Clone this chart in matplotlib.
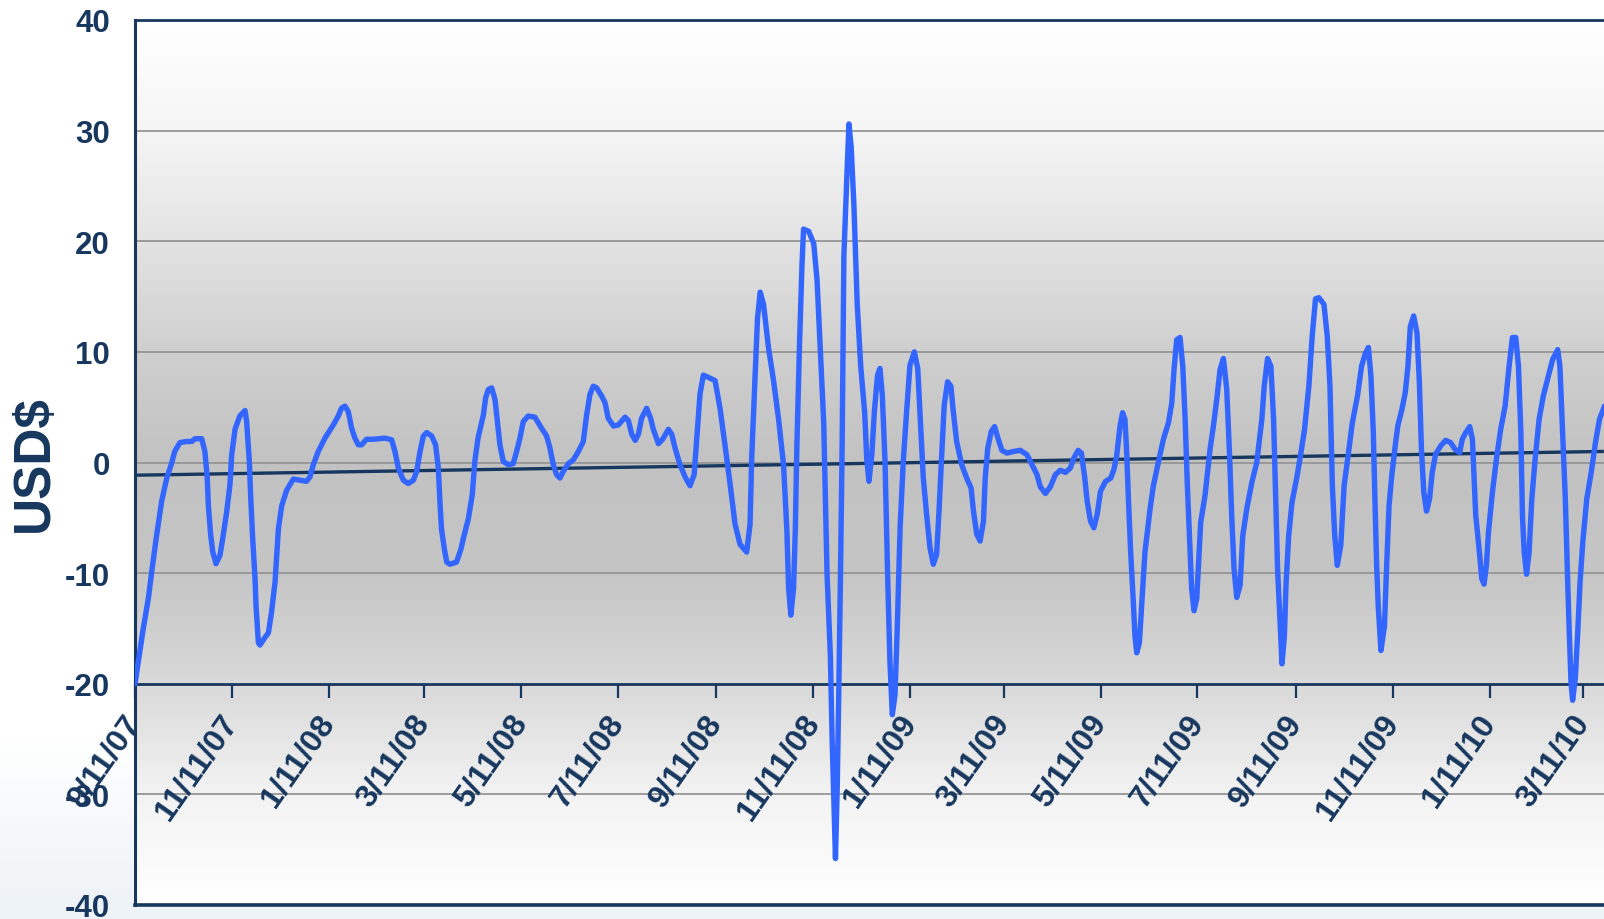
import matplotlib
matplotlib.use('Agg')
import matplotlib.pyplot as plt
import matplotlib.dates as mdates
from matplotlib.colors import LinearSegmentedColormap
from matplotlib.patches import Rectangle
import numpy as np
import pandas as pd

# ---------------- data ----------------
start_date = '2007-09-11'
# days after the start date, and the USD$ value read at each of them
day_offsets = [
    0, 5.2, 8.4, 10.5, 13.6, 16.8, 20, 23, 25, 28.3, 32.5, 35.7, 37.8, 42, 44, 45.5, 46.2, 47.7, 49, 51,
    53.5, 55.2, 57.7, 59.8, 60.9, 63, 66, 69.3, 70.3, 72, 72.8, 74, 75.6, 76.2, 77.7, 78.7, 81.9, 84, 86, 88.2,
    90.3, 92.4, 95.5, 99.7, 103.9, 108, 110.2, 112.3, 115.4, 119.6, 124.9, 128, 130, 132.2, 134.3, 136.4, 138.5,
    140.6, 142.7, 145.8, 150, 157.4, 161.6, 163.7, 165.8, 169, 172, 175.3, 177.4, 179.5, 181.6, 183.7, 186.8,
    189.3, 191, 192, 193, 194.8, 196.3, 198.3, 202.5, 205.3, 206.7, 209.9, 212.4, 214, 216, 219.4, 220.8, 222.5,
    224.6, 226.7, 228.4, 229.8, 231.9, 235, 238.2, 240.3, 242.4, 244.5, 247.6, 251.8, 256, 259.2, 261.3, 263.4,
    265.5, 267.6, 269.7, 272.9, 276, 279.2, 282.3, 284.4, 286.5, 288.6, 290.7, 293.9, 296, 298, 301.3, 304.4,
    308.6, 310.7, 312.8, 315, 317, 319, 322.2, 324.7, 326.4, 329.6, 332.3, 335.9, 338, 340.1, 343.2, 346.4,
    349.5, 352.1, 354.1, 355.8, 357.9, 361, 365.3, 368.4, 371.6, 374.7, 377.9, 381, 385.2, 387.3, 388.4, 390.5,
    392, 393.7, 395.8, 398.9, 402.1, 405.2, 408.4, 410.5, 411.6, 413, 414.7, 415.8, 416.8, 418.5, 420, 421,
    424.2, 427.4, 429.5, 431.6, 433.7, 435.8, 437.9, 439, 440, 441.1, 442.2, 443.2, 444.3, 445.3, 446.4, 448.5,
    449.6, 451, 452.7, 454.8, 457, 459.5, 460.8, 462.2, 464, 465.6, 467.6, 469.1, 470.6, 472.3, 474, 475.4,
    476.9, 478.6, 480, 481.8, 483.8, 485.9, 488, 490.8, 492.9, 494.3, 496.4, 498.5, 500.6, 502.7, 504.8, 506.3,
    508, 509.6, 511.7, 513.8, 515.3, 517.4, 520.6, 523.7, 526.5, 528, 530.1, 532.2, 534.3, 535.4, 537, 539.2,
    541.3, 543.4, 545.9, 549.1, 553.3, 557.5, 561.7, 564.9, 568, 570.1, 573.3, 576.4, 579.6, 582.7, 585.9, 589,
    591.2, 593.9, 596, 598.1, 599.6, 601.7, 603.8, 605.9, 608, 611.2, 614.5, 616.5, 618.2, 620.3, 621.9, 623.4,
    624.5, 625.5, 627, 628.7, 629.7, 630.8, 632.5, 634, 636, 639.2, 641.3, 644.4, 647.6, 650.8, 652.9, 654.3,
    656, 658.1, 659.8, 661.3, 662.7, 664.4, 665.4, 666.9, 668.6, 669.6, 671.1, 673.8, 677, 679.1, 681.2, 683.3,
    685.4, 687.5, 689.2, 690.7, 692.1, 693.8, 695.9, 697.6, 700.1, 703.3, 706.4, 709.6, 711.1, 713.2, 715.3,
    717, 718.1, 719.5, 720.8, 722.3, 723.8, 724.8, 726.5, 728.6, 731.8, 733.9, 736.5, 739.2, 741.3, 743.4,
    745.5, 748.7, 750.8, 752.5, 754, 755.5, 757.1, 759.3, 761.4, 763.9, 766.6, 769.8, 772.4, 774.6, 776.7,
    778.3, 779.8, 780.8, 781.9, 782.9, 784.6, 786.8, 788.2, 789.7, 791.4, 793.6, 795.2, 797.8, 799.9, 801.6,
    803.1, 805.2, 807.3, 808.8, 810.1, 811.6, 813.3, 815.2, 816.9, 819, 822.2, 825.3, 828.5, 831.2, 834.2,
    835.8, 838, 840.5, 842.2, 843.2, 844.3, 846.4, 848.1, 849.5, 851, 852.3, 854.8, 857.3, 860, 862.8, 865.3,
    867.4, 869.5, 871.2, 872.7, 873.7, 874.8, 876.3, 877.9, 879.6, 881.7, 884.2, 886.8, 889.5, 892.7, 895.9,
    897.3, 899, 900.7, 902.2, 903.2, 904.3, 905.3, 907, 908.5, 910, 911.7, 914.2, 917, 919.7, 922.2, 925.4,
]
usd_values = [
    -20, -15, -12.3, -9.9, -6.6, -3.5, -1.4, -0.1, 1.0, 1.8, 1.9, 1.9, 2.15, 2.15, 1.0, -1.4, -3.9, -6.6, -8.1, -9.15,
    -8.4, -6.9, -4.5, -2.0, 0.7, 3.0, 4.2, 4.7, 3.7, 0.1, -2.9, -6.6, -10.5, -12.9, -16.3, -16.5, -15.8, -15.4, -13.5, -10.8,
    -6.0, -3.9, -2.5, -1.5, -1.6, -1.7, -1.3, -0.2, 1.0, 2.2, 3.4, 4.2, 4.9, 5.1, 4.6, 3.1, 2.2,
    1.6, 1.6, 2.1, 2.1, 2.2, 2.06, 1.0, -0.5, -1.6, -1.9, -1.6, -0.8, 1.0, 2.4, 2.7, 2.4,
    1.6, -0.5, -3.5, -6.0, -7.8, -9.0, -9.2, -9.0, -7.8, -6.9, -5.1, -2.9, 0.1, 2.2, 4.3, 5.85, 6.6,
    6.75, 5.7, 3.4, 1.6, 0.1, -0.2, -0.1, 1.0, 2.2, 3.7, 4.2, 4.1, 3.1, 2.4, 1.3, -0.2,
    -1.1, -1.4, -0.8, -0.1, 0.24, 1.0, 1.9, 4.3, 6.15, 6.9, 6.75, 6.0, 5.4, 4.0, 3.3, 3.4,
    4.1, 3.8, 2.55, 2.0, 2.55, 4.0, 4.9, 4.0, 3.0, 1.7, 2.1, 3.0, 2.55, 1.3, -0.2, -1.3,
    -2.1, -1.1, 2.8, 6.2, 7.9, 7.7, 7.4, 4.9, 1.5, -1.9, -5.6, -7.4, -8.1, -5.6, 0.6, 7.8,
    13.0, 15.4, 14.3, 10.4, 7.4, 4.0, -0.2, -6.1, -11.4, -13.8, -11.4, -6.1, 1.5, 10.9, 17.8, 21.1,
    20.9, 19.8, 16.5, 10.0, 3.6, -10.1, -17.5, -25, -30.3, -35.8, -29.4, -20.6, -9.7, 1.5, 18.7, 26.7,
    30.6, 28.5, 23.3, 14.3, 8.7, 4.5, 0.3, -1.7, 0.7, 4.6, 7.9, 8.5, 6.1, 0.1, -10.5, -18,
    -22.8, -21, -15, -5.9, 0.1, 4.6, 8.8, 10.0, 8.5, 4.6, -1.4, -4.7, -7.7, -9.2, -8.3, -4.4,
    0.7, 5.2, 7.3, 6.9, 4.6, 1.9, -0.2, -1.4, -2.3, -4.4, -6.5, -7.1, -5.3, -1.4, 1.3, 2.8,
    3.25, 2.2, 1.1, 0.85, 1.0, 1.1, 0.7, -0.2, -1.1, -2.2, -2.8, -2.2, -1.1, -0.7, -0.9, -0.5,
    0.4, 1.1, 0.85, -1.4, -3.5, -5.3, -5.9, -4.7, -2.6, -1.7, -1.4, -0.6, 0.6, 3.3, 4.5, 3.9,
    0.9, -3.0, -8.1, -12.7, -15.7, -17.2, -16.3, -12.7, -8.1, -4.2, -2.1, 0.0, 2.1, 3.6, 5.4, 8.4,
    11.1, 11.3, 8.7, 3.9, -2.1, -8.1, -11.4, -13.4, -12.3, -9.6, -5.4, -3.0, 1.2, 3.3, 5.7, 8.4,
    9.4, 6.6, 0.9, -5.1, -9.6, -12.2, -11.1, -6.6, -4.2, -1.8, 0.0, 3.9, 6.9, 9.4, 8.7,
    3.9, -2.1, -9.6, -13.6, -18.2, -15.7, -11.1, -6.6, -3.6, -1.2, 0.6, 3.0, 6.9, 11.4, 14.8,
    14.9, 14.3, 11.4, 6.9, -2.1, -6.6, -9.3, -7.5, -2.1, 0.6, 3.6, 6.0, 8.7, 9.8, 10.4,
    7.8, 2.7, -3.3, -9.3, -13, -17, -14.8, -9.3, -3.9, -1.2, 1.5, 3.3, 4.8, 6.3, 8.7,
    12.3, 13.25, 11.7, 7.2, 1.2, -2.7, -4.4, -3.3, -0.9, 0.75, 1.5, 2.0, 1.8, 1.2, 0.9,
    2.1, 2.7, 3.25, 2.1, -1.2, -4.8, -7.8, -10.5, -11, -9.3, -6.3, -2.7, 0.3, 3.0, 5.1, 8.7,
    11.3, 11.3, 8.7, 2.7, -4.8, -8.1, -10.1, -8.1, -3.3, 0.3, 3.9, 6.0, 7.5, 9.3, 10.2,
    8.7, 2.7, -3.3, -10.8, -15.4, -19.9, -21.5, -19.5, -15.4, -10.8, -7.2, -3.3, -0.9, 1.8, 3.9, 5.1,
]
trend_days = [0, 925]
trend_values = [-1.15, 1.0]
tick_labels = ['9/11/07', '11/11/07', '1/11/08', '3/11/08', '5/11/08', '7/11/08', '9/11/08', '11/11/08',
               '1/11/09', '3/11/09', '5/11/09', '7/11/09', '9/11/09', '11/11/09', '1/11/10', '3/11/10']
y_ticks = [-40, -30, -20, -10, 0, 10, 20, 30, 40]
y_label = 'USD$'

# ---------------- style ----------------
navy = '#17375e'
blue = '#3366ff'
W, H = 1604, 920
plt.rcParams['font.family'] = ['Liberation Sans', 'DejaVu Sans']

fig = plt.figure(figsize=(W / 100, H / 100), dpi=100)
fig.patch.set_facecolor('white')

# light blue-grey strip at the bottom of the slide (behind everything)
fig.patches.append(Rectangle((0, 0), 1, 14 / H, transform=fig.transFigure,
                             facecolor='#eef3f7', edgecolor='none', zorder=-5))
# faint gradient in the lower-left corner
corner = fig.add_axes([0, 14 / H, 133 / W, 170 / H])
corner.set_zorder(-4)
corner_cmap = LinearSegmentedColormap.from_list('c', ['#eef3f7', '#ffffff'])
corner.imshow(np.linspace(1, 0, 64).reshape(-1, 1), cmap=corner_cmap, aspect='auto',
              extent=[0, 1, 0, 1])
corner.axis('off')

ax = fig.add_axes([135 / W, 14 / H, 1 - 135 / W, 885 / H])
ax.set_zorder(1)

start = pd.Timestamp(start_date)
dates = start + pd.to_timedelta(day_offsets, unit='D')
trend_dates = start + pd.to_timedelta(trend_days, unit='D')
tick_dates = pd.to_datetime(tick_labels, format='%m/%d/%y')

x0 = start
x1 = start + pd.Timedelta(days=(W - 135) / 1.588)
ax.set_xlim(x0, x1)
ax.set_ylim(-40, 40)

# vertical grey gradient background
bg_cmap = LinearSegmentedColormap.from_list('bg', [
    (0.0, '#ffffff'), (0.125, '#f5f5f5'), (0.25, '#e3e3e3'), (0.375, '#cfcfcf'),
    (0.5, '#c2c2c2'), (0.625, '#c5c5c5'), (0.75, '#d9d9d9'), (0.875, '#f3f3f3'), (1.0, '#ffffff')])
ax.imshow(np.linspace(0, 1, 512).reshape(-1, 1), cmap=bg_cmap, aspect='auto',
          extent=[mdates.date2num(x0), mdates.date2num(x1), -40, 40], zorder=0)

for yv in [30, 20, 10, 0, -10, -30]:
    ax.axhline(yv, color='#959595', lw=1.3, zorder=1)

ax.plot(trend_dates, trend_values, color=navy, lw=2.4, zorder=3, solid_capstyle='butt')
ax.plot(dates, usd_values, color=blue, lw=3.9, zorder=4,
        solid_joinstyle='round', solid_capstyle='round')

# frame
for s in ['left', 'top', 'bottom']:
    ax.spines[s].set_color(navy)
ax.spines['left'].set_linewidth(2.2)
ax.spines['top'].set_linewidth(2.0)
ax.spines['bottom'].set_linewidth(2.0)
ax.spines['bottom'].set_position(('data', -20))
ax.spines['right'].set_visible(False)
ax.axhline(-40, color=navy, lw=2.6, clip_on=False, zorder=5)

ax.set_xticks(tick_dates)
ax.set_xticklabels(tick_labels)
ax.tick_params(axis='x', direction='out', length=10, width=1.6, color=navy,
               pad=14, labelsize=23, labelcolor=navy)
for lab in ax.get_xticklabels():
    lab.set_rotation(55)
    lab.set_ha('right')
    lab.set_va('center')
    lab.set_rotation_mode('anchor')
    lab.set_fontweight('bold')

ax.set_yticks(y_ticks)
ax.set_yticklabels([str(v) for v in y_ticks])
ax.tick_params(axis='y', length=0, pad=18, labelsize=22.5, labelcolor=navy)
for lab in ax.get_yticklabels():
    lab.set_fontweight('bold')
    lab.set_clip_on(False)

ax.set_ylabel(y_label, fontsize=37, fontweight='bold', color=navy)
ax.yaxis.set_label_coords(-0.052, 0.5)

fig.savefig('out.png', dpi=100, facecolor=fig.get_facecolor())
